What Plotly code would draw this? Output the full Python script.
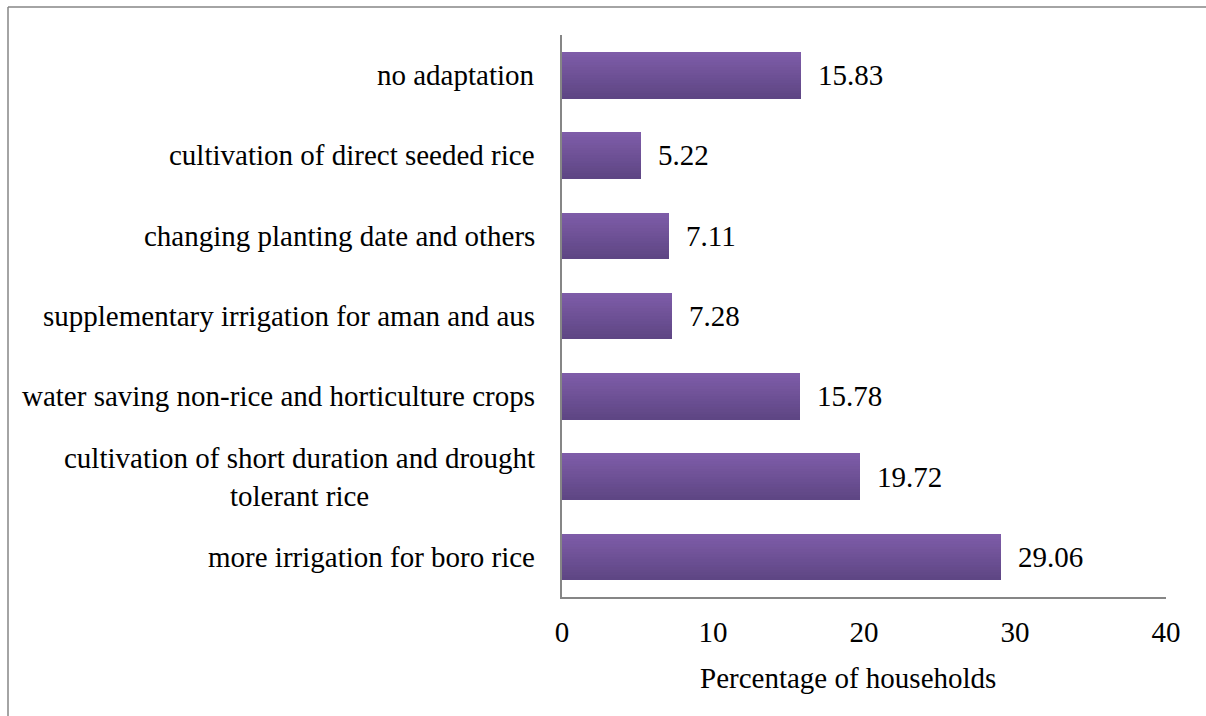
import plotly.graph_objects as go

# Adaptation strategies (top to bottom) and share of households (%)
categories = [
    "no adaptation",
    "cultivation of direct seeded rice",
    "changing planting date and others",
    "supplementary irrigation for aman and aus",
    "water saving non-rice and horticulture crops",
    "cultivation of short duration and drought<br>tolerant rice",
    "more irrigation for boro rice",
]
values = [15.83, 5.22, 7.11, 7.28, 15.78, 19.72, 29.06]
x_ticks = [0, 10, 20, 30, 40]

FONT = "Liberation Serif"
FS = 29

# plot-area geometry in pixels
W, H = 1206, 716
L, R, T, B = 562, 40, 35, 119
pw, ph = W - L - R, H - T - B

def px_x(p):
    return (p - L) / pw

def px_y(p):
    return (H - B - p) / ph

fig = go.Figure()

# vertical gradient on the bars: stack thin slices from light (top) to dark (bottom)
bar_w = 0.575
n = 18
top_rgb = (126, 92, 168)
bot_rgb = (94, 70, 132)
step = bar_w / n
for i in range(n):
    t = i / (n - 1)
    c = tuple(round(a + (b - a) * t) for a, b in zip(top_rgb, bot_rgb))
    fig.add_trace(go.Bar(
        y=categories, x=values, orientation="h",
        width=step * 1.15, offset=-bar_w / 2 + i * step,
        marker=dict(color="rgb(%d,%d,%d)" % c, line=dict(width=0)),
        hoverinfo="skip", showlegend=False,
    ))

# value labels just past the bar ends
for cat, v in zip(categories, values):
    fig.add_annotation(
        x=v, y=cat, xref="x", yref="y", text=f"{v:.2f}",
        xanchor="left", yanchor="middle", xshift=15, showarrow=False,
        font=dict(family=FONT, size=FS, color="black"),
    )

# category labels, right-aligned against the axis, multi-line centred
for cat in categories:
    fig.add_annotation(
        x=px_x(537), y=cat, xref="paper", yref="y", text=cat,
        xanchor="right", yanchor="middle", align="center", showarrow=False,
        font=dict(family=FONT, size=FS, color="black"),
    )

# axis title
fig.add_annotation(
    x=px_x(848), y=px_y(678), xref="paper", yref="paper",
    text="Percentage of households", xanchor="center", yanchor="middle",
    showarrow=False, font=dict(family=FONT, size=FS, color="black"),
)

# outer frame (top and left edges)
frame = dict(type="line", xref="paper", yref="paper",
             line=dict(color="#868686", width=1.5))
fig.add_shape(**frame, x0=px_x(8), x1=px_x(1206), y0=px_y(7), y1=px_y(7))
fig.add_shape(**frame, x0=px_x(8), x1=px_x(8), y0=px_y(7), y1=px_y(716))

fig.update_layout(
    width=W, height=H,
    margin=dict(l=L, r=R, t=T, b=B, pad=0),
    paper_bgcolor="white", plot_bgcolor="white",
    barmode="overlay", bargap=0,
    font=dict(family=FONT, size=FS, color="black"),
    xaxis=dict(
        range=[0, 40], tickvals=x_ticks, ticktext=[str(v) for v in x_ticks],
        showgrid=False, zeroline=False, showline=True,
        linecolor="#868686", linewidth=1.5, ticks="",
        ticklabelstandoff=8,
        tickfont=dict(family=FONT, size=FS, color="black"),
    ),
    yaxis=dict(
        categoryorder="array", categoryarray=categories,
        autorange="reversed", showticklabels=False,
        showgrid=False, zeroline=False, showline=True,
        linecolor="#868686", linewidth=1.5, ticks="",
    ),
)

fig.write_html("out.html")
